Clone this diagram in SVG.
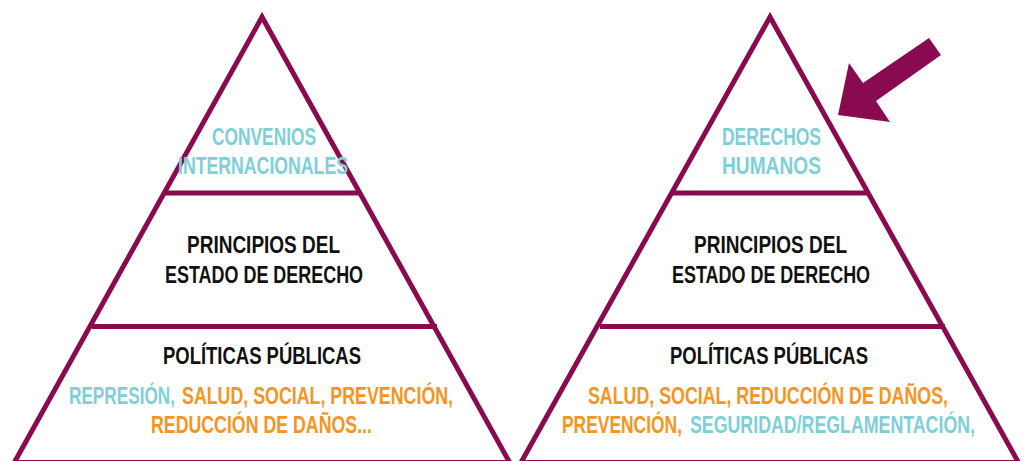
<svg xmlns="http://www.w3.org/2000/svg" width="1025" height="461" viewBox="0 0 1025 461">
<style>
.edge{fill:none;stroke:#8a0a4f;stroke-width:5;stroke-linejoin:miter;stroke-miterlimit:10}
.div{stroke:#8a0a4f;stroke-width:5}
text{font-family:"Liberation Sans",Arial,sans-serif;font-weight:bold;font-size:23px}
.teal{fill:#7dd0d6}
.orange{fill:#f7941e}
.black{fill:#111111}
</style>
<rect width="1025" height="461" fill="#ffffff"/>
<g id="pyramid-left">
<polygon class="edge" points="262,17 14.3,462.5 509.7,462.5"/>
<line class="div" x1="163" y1="193" x2="361" y2="193"/>
<line class="div" x1="92" y1="326.5" x2="437" y2="326.5"/>
<text class="teal" transform="translate(212,145) scale(0.754,1)" textLength="138" lengthAdjust="spacingAndGlyphs">CONVENIOS</text>
<text class="teal" transform="translate(178,174) scale(0.769,1)" textLength="221.1" lengthAdjust="spacingAndGlyphs">INTERNACIONALES</text>
<text class="black" transform="translate(187,253) scale(0.826,1)" textLength="185.3" lengthAdjust="spacingAndGlyphs">PRINCIPIOS DEL</text>
<text class="black" transform="translate(165,283) scale(0.775,1)" textLength="255.6" lengthAdjust="spacingAndGlyphs">ESTADO DE DERECHO</text>
<text class="black" transform="translate(163,364) scale(0.803,1)" textLength="246.6" lengthAdjust="spacingAndGlyphs">POLÍTICAS PÚBLICAS</text>
<text class="teal" transform="translate(69,404) scale(0.747,1)" textLength="141.9" lengthAdjust="spacingAndGlyphs">REPRESIÓN,</text>
<text class="orange" transform="translate(182,404) scale(0.774,1)" textLength="350.2" lengthAdjust="spacingAndGlyphs">SALUD, SOCIAL, PREVENCIÓN,</text>
<text class="orange" transform="translate(151,433) scale(0.772,1)" textLength="286.2" lengthAdjust="spacingAndGlyphs">REDUCCIÓN DE DAÑOS...</text>
</g>
<g id="pyramid-right">
<polygon class="edge" points="770,17 521,462.5 1018.5,462.5"/>
<line class="div" x1="672" y1="193" x2="868" y2="193"/>
<line class="div" x1="600" y1="326.5" x2="945" y2="326.5"/>
<text class="teal" transform="translate(722,145) scale(0.760,1)" textLength="130.3" lengthAdjust="spacingAndGlyphs">DERECHOS</text>
<text class="teal" transform="translate(722,174) scale(0.833,1)" textLength="118.8" lengthAdjust="spacingAndGlyphs">HUMANOS</text>
<text class="black" transform="translate(694,253) scale(0.826,1)" textLength="185.3" lengthAdjust="spacingAndGlyphs">PRINCIPIOS DEL</text>
<text class="black" transform="translate(672,283) scale(0.775,1)" textLength="255.6" lengthAdjust="spacingAndGlyphs">ESTADO DE DERECHO</text>
<text class="black" transform="translate(670,364) scale(0.803,1)" textLength="246.6" lengthAdjust="spacingAndGlyphs">POLÍTICAS PÚBLICAS</text>
<text class="orange" transform="translate(588,404) scale(0.774,1)" textLength="465.1" lengthAdjust="spacingAndGlyphs">SALUD, SOCIAL, REDUCCIÓN DE DAÑOS,</text>
<text class="orange" transform="translate(562,433) scale(0.757,1)" textLength="158.5" lengthAdjust="spacingAndGlyphs">PREVENCIÓN,</text>
<text class="teal" transform="translate(690,433) scale(0.769,1)" textLength="370.6" lengthAdjust="spacingAndGlyphs">SEGURIDAD/REGLAMENTACIÓN,</text>
</g>
<g id="connectors">
<polygon fill="#8a0a4f" points="838,115 849,63 863,83 929,38 941,55 876,101 890,122"/>
</g>
</svg>
